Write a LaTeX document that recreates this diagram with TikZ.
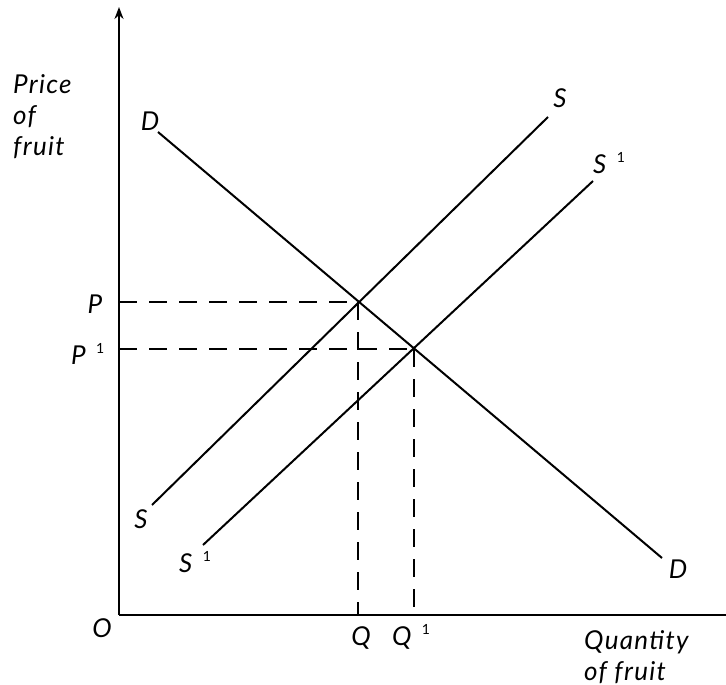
\documentclass[tikz,border=0pt]{standalone}
\usepackage{fontspec}
\setmainfont{Lato}[LetterSpace=5]
\usetikzlibrary{arrows.meta}
\newcommand\supone{\hspace{0.4em}\raisebox{0.42em}{\fontsize{14}{14}\selectfont\upshape 1}}
\tikzset{
  curve/.style={line width=2pt},
  axis/.style={line width=2.6pt},
  guide/.style={line width=2pt, dash pattern=on 18pt off 12pt},
  lbl/.style={font=\fontsize{26}{31}\selectfont\itshape, inner sep=0pt},
}
\begin{document}
\begin{tikzpicture}[x=1pt,y=-1pt]
\useasboundingbox (0,0) rectangle (726,685);
% axes
\coordinate (O) at (119,615);
\coordinate (ytop) at (119,7);
\coordinate (xend) at (726,615);
\draw[axis,-{Stealth[length=12pt,width=9pt]}] (O) -- (ytop);
\draw[axis] (O) -- (xend);
% curves
\coordinate (D1) at (158,132);
\coordinate (D2) at (662,558);
\coordinate (S1a) at (152,505);
\coordinate (S1b) at (548,117);
\coordinate (S2a) at (203,545);
\coordinate (S2b) at (593,181);
\draw[curve] (D1) -- (D2);
\draw[curve] (S1a) -- (S1b);
\draw[curve] (S2a) -- (S2b);
% equilibria
\coordinate (E1) at (358,302);
\coordinate (E2) at (414,349);
\coordinate (Py) at (119,302);
\coordinate (P1y) at (119,349);
\coordinate (Qx) at (358,615);
\coordinate (Q1x) at (414,615);
\draw[guide] (Py) -- (E1);
\draw[guide] (E1) -- (Qx);
\draw[guide] (P1y) -- (E2);
\draw[guide] (E2) -- (Q1x);
% labels
\node[lbl, anchor=north west, align=left] (ylab) at (13,74) {Price\\of\\fruit};
\node[lbl, anchor=north west, align=left] (xlab) at (584,630) {Quantity\\of fruit};
\node[lbl] (Dtop) at (150,121) {D};
\node[lbl] (Dbot) at (678,569) {D};
\node[lbl] (Stop) at (560,98) {S};
\node[lbl, anchor=west] (S1top) at (593,163) {S\supone};
\node[lbl] (Sbot) at (141,519) {S};
\node[lbl, anchor=west] (S1bot) at (179,562) {S\supone};
\node[lbl] (Plab) at (95,304) {P};
\node[lbl, anchor=west] (P1lab) at (71,354) {P\supone};
\node[lbl] (Olab) at (102,628) {O};
\node[lbl] (Qlab) at (361,638) {Q};
\node[lbl, anchor=west] (Q1lab) at (392,637) {Q\supone};
\end{tikzpicture}
\end{document}
